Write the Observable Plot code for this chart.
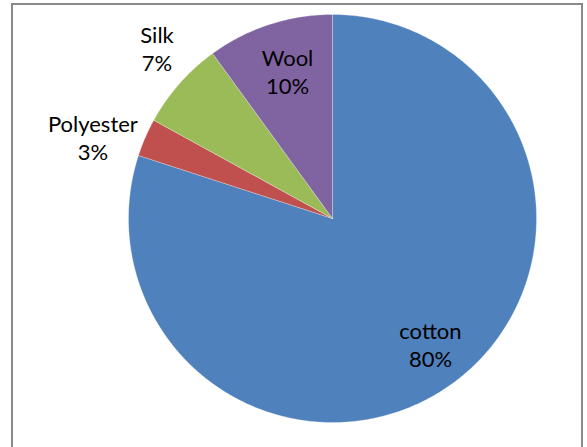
<!DOCTYPE html>
<html>
<head>
<meta charset="utf-8">
<script src="https://cdn.jsdelivr.net/npm/d3@7"></script>
<script src="https://cdn.jsdelivr.net/npm/@observablehq/plot@0.6"></script>
<style>
  html, body { margin: 0; padding: 0; background: #fff; overflow: hidden; }
  #wrap { position: relative; width: 587px; height: 447px; }
  #frame { position: absolute; left: 11px; top: 3px; width: 572px; height: 460px;
           border: 2px solid #8a8a8a; box-sizing: border-box; }
  #chart { position: absolute; left: 0; top: 0; }
</style>
</head>
<body>
<div id="wrap"><div id="frame"></div><div id="chart"></div></div>
<script>
// Data
const categories = ["cotton", "Polyester", "Silk", "Wool"];
const shares = [80, 3, 7, 10];
const colors = ["#4F81BD", "#C0504D", "#9BBB59", "#8064A2"];

// Layout (not data)
const W = 587, H = 447;
const cx = 332, cy = 218, R = 204;
const labelLayout = {
  cotton: {r: 0.78, shift: -2},
  Polyester: {r: 1.24, shift: -4.7},
  Silk: {r: 1.2, shift: 2.8},
  Wool: {r: 0.755, shift: 1}
};

const total = d3.sum(shares);
let acc = 0;
const slices = categories.map((c, i) => {
  const a0 = acc / total * 2 * Math.PI;
  acc += shares[i];
  const a1 = acc / total * 2 * Math.PI;
  return {name: c, value: shares[i], a0, a1, color: colors[i]};
});

// polygon points for each slice (angle clockwise from top)
const pts = [];
for (const s of slices) {
  pts.push({name: s.name, x: 0, y: 0});
  const n = Math.max(4, Math.ceil((s.a1 - s.a0) / (Math.PI / 360)));
  for (let k = 0; k <= n; k++) {
    const a = s.a0 + (s.a1 - s.a0) * k / n;
    pts.push({name: s.name, x: Math.sin(a), y: Math.cos(a)});
  }
  pts.push({name: s.name, x: 0, y: 0});
}

const labels = slices.map(s => {
  const L = labelLayout[s.name];
  const a = (s.a0 + s.a1) / 2 + L.shift * Math.PI / 180;
  return {name: s.name, text: `${s.name}\n${Math.round(s.value / total * 100)}%`,
          x: Math.sin(a) * L.r, y: Math.cos(a) * L.r};
});

const plot = Plot.plot({
  width: W, height: H,
  margin: 0,
  x: {domain: [-cx / R, (W - cx) / R], axis: null},
  y: {domain: [-(H - cy) / R, cy / R], axis: null},
  color: {domain: categories, range: colors},
  style: {background: "transparent"},
  marks: [
    Plot.line(pts, {x: "x", y: "y", z: "name", fill: "name", stroke: "#ffffff",
      strokeOpacity: 0.35, strokeWidth: 0.8, curve: "linear"}),
    Plot.text(labels, {x: "x", y: "y", text: "text", fill: "#000",
      fontSize: 22, lineHeight: 1.28, fontFamily: "Lato, 'Open Sans', sans-serif"})
  ]
});
document.getElementById("chart").appendChild(plot);
</script>
</body>
</html>
